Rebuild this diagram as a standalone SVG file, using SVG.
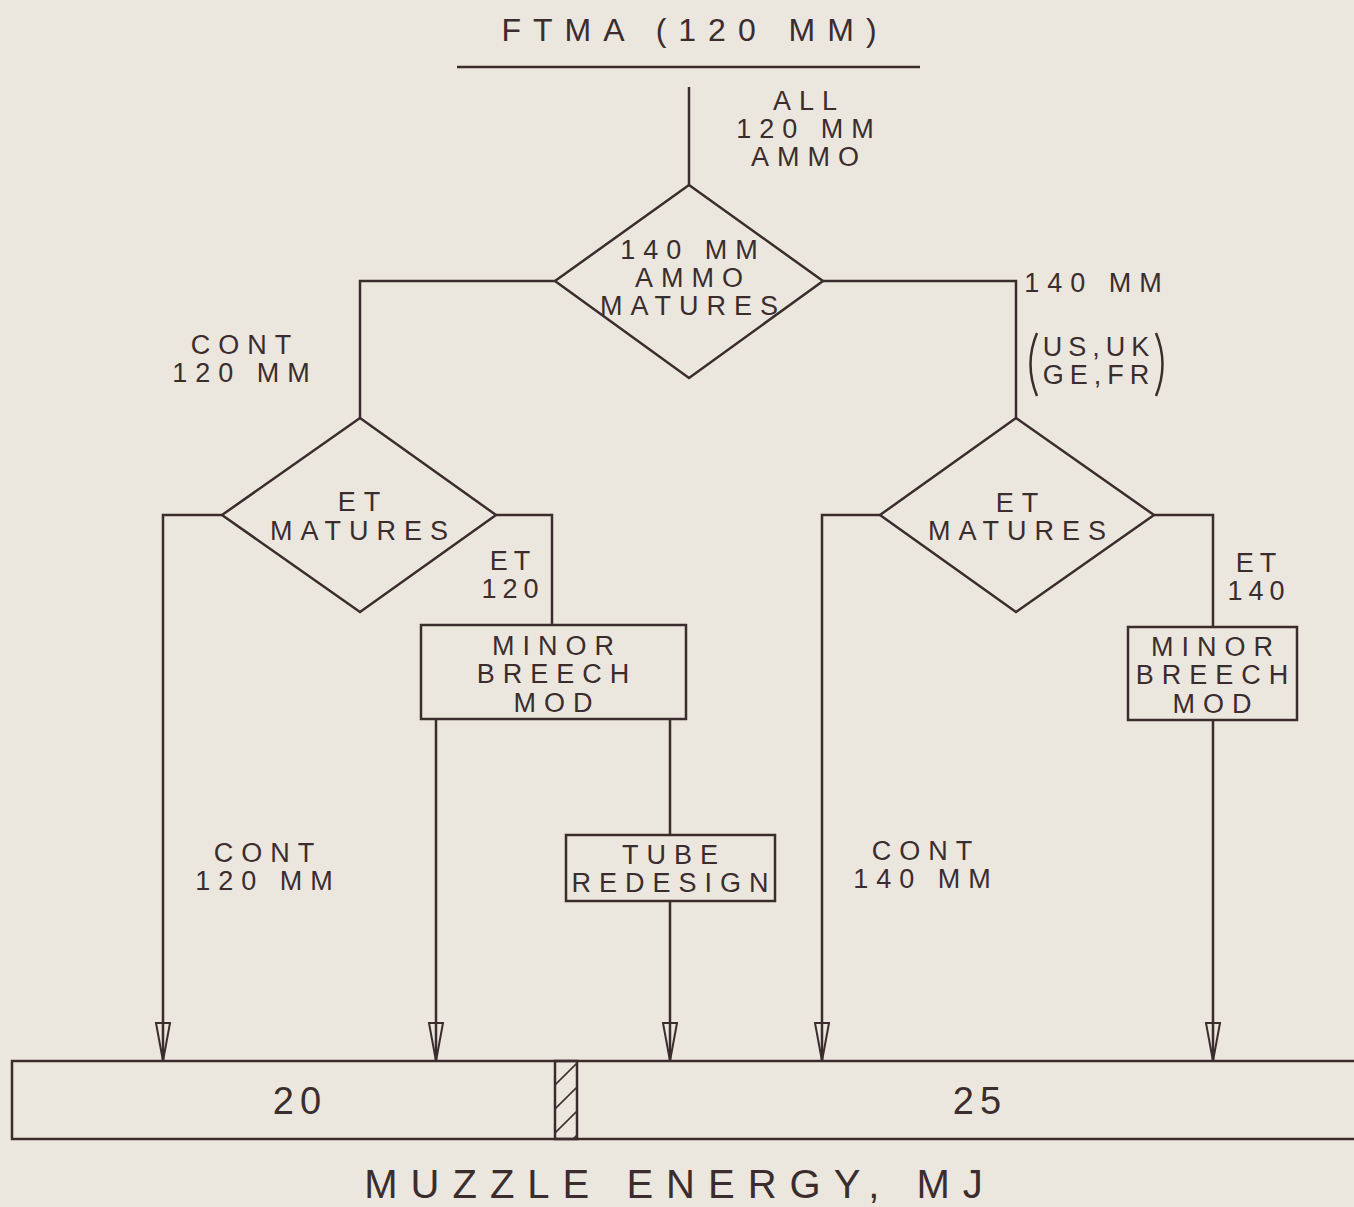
<svg xmlns="http://www.w3.org/2000/svg" width="1354" height="1207" viewBox="0 0 1354 1207">
<defs>
<style>
.ln{fill:none;stroke:#3b2d2e;stroke-width:2.5}
.t{font-family:"Liberation Sans",Arial,sans-serif;font-size:27px;fill:#3b2d2e;text-anchor:middle;letter-spacing:8px}
.n{letter-spacing:6px}
.big{font-size:38px;letter-spacing:6px}
.ttl{font-size:32px;letter-spacing:12px}
.mz{font-size:40px;letter-spacing:13px}
</style>
<marker id="ah" markerUnits="userSpaceOnUse" markerWidth="20" markerHeight="44" refX="10" refY="40" orient="0" viewBox="0 0 20 44">
<path d="M3,2 L17,2 L10,40 Z" fill="none" stroke="#3b2d2e" stroke-width="2"/>
</marker>
<pattern id="hatch" patternUnits="userSpaceOnUse" width="22" height="24" x="555" y="1061">
<line x1="0" y1="24" x2="22" y2="2" stroke="#3b2d2e" stroke-width="1.6"/>
</pattern>
</defs>
<rect width="1354" height="1207" fill="#ece7de"/>

<g id="title">
<text class="t ttl" x="695" y="41">FTMA (120 MM)</text>
<line class="ln" x1="457" y1="67" x2="920" y2="67"/>
</g>

<g id="connectors">
<line class="ln" x1="689" y1="87" x2="689" y2="185"/>
<polyline class="ln" points="555,281 360,281 360,418"/>
<polyline class="ln" points="823,281 1016,281 1016,418"/>
<polyline class="ln" points="222,515 163,515 163,1061" marker-end="url(#ah)"/>
<polyline class="ln" points="496,515 552,515 552,625"/>
<line class="ln" x1="436" y1="719" x2="436" y2="1061" marker-end="url(#ah)"/>
<line class="ln" x1="670" y1="719" x2="670" y2="835"/>
<line class="ln" x1="670" y1="901" x2="670" y2="1061" marker-end="url(#ah)"/>
<polyline class="ln" points="880,515 822,515 822,1061" marker-end="url(#ah)"/>
<polyline class="ln" points="1154,515 1213,515 1213,627"/>
<line class="ln" x1="1213" y1="720" x2="1213" y2="1061" marker-end="url(#ah)"/>
</g>

<g id="labels">
<text class="t" x="809" y="110">ALL</text>
<text class="t" x="809" y="138">120 MM</text>
<text class="t" x="809" y="166">AMMO</text>
<text class="t" x="1097" y="292">140 MM</text>
<text class="t" x="245" y="354">CONT</text>
<text class="t" x="245" y="382">120 MM</text>
<text class="t n" x="1099" y="356">US,UK</text>
<text class="t n" x="1099" y="384">GE,FR</text>
<path class="ln" d="M1037,333 Q1024,364 1037,396" stroke-width="2"/>
<path class="ln" d="M1156,333 Q1169,364 1156,396" stroke-width="2"/>
<text class="t n" x="513" y="570">ET</text>
<text class="t n" x="513" y="598">120</text>
<text class="t n" x="1259" y="572">ET</text>
<text class="t n" x="1259" y="600">140</text>
<text class="t" x="268" y="862">CONT</text>
<text class="t" x="268" y="890">120 MM</text>
<text class="t" x="926" y="860">CONT</text>
<text class="t" x="926" y="888">140 MM</text>
</g>

<g id="d-top">
<polygon class="ln" points="689,185 823,281 689,378 555,281"/>
<text class="t" x="693" y="259">140 MM</text>
<text class="t" x="693" y="287">AMMO</text>
<text class="t" x="693" y="315">MATURES</text>
</g>

<g id="d-left">
<polygon class="ln" points="360,418 496,515 360,612 222,515"/>
<text class="t" x="363" y="511">ET</text>
<text class="t" x="363" y="540">MATURES</text>
</g>

<g id="d-right">
<polygon class="ln" points="1016,418 1154,515 1016,612 880,515"/>
<text class="t" x="1021" y="512">ET</text>
<text class="t" x="1021" y="540">MATURES</text>
</g>

<g id="box-breech-120">
<rect class="ln" x="421" y="625" width="265" height="94"/>
<text class="t" x="557" y="655">MINOR</text>
<text class="t" x="557" y="683">BREECH</text>
<text class="t" x="557" y="712">MOD</text>
</g>

<g id="box-tube">
<rect class="ln" x="566" y="835" width="209" height="66"/>
<text class="t" x="674" y="864">TUBE</text>
<text class="t" x="674" y="892">REDESIGN</text>
</g>

<g id="box-breech-140">
<rect class="ln" x="1128" y="627" width="169" height="93"/>
<text class="t" x="1216" y="656">MINOR</text>
<text class="t" x="1216" y="684">BREECH</text>
<text class="t" x="1216" y="713">MOD</text>
</g>

<g id="energy-bar">
<path class="ln" d="M1356,1061 L12,1061 L12,1139 L1356,1139"/>
<rect x="555" y="1061" width="22" height="78" fill="url(#hatch)" stroke="#3b2d2e" stroke-width="2.5"/>
<text class="t big" x="300" y="1114">20</text>
<text class="t big" x="980" y="1114">25</text>
<text class="t mz" x="680" y="1198">MUZZLE ENERGY, MJ</text>
</g>
</svg>
